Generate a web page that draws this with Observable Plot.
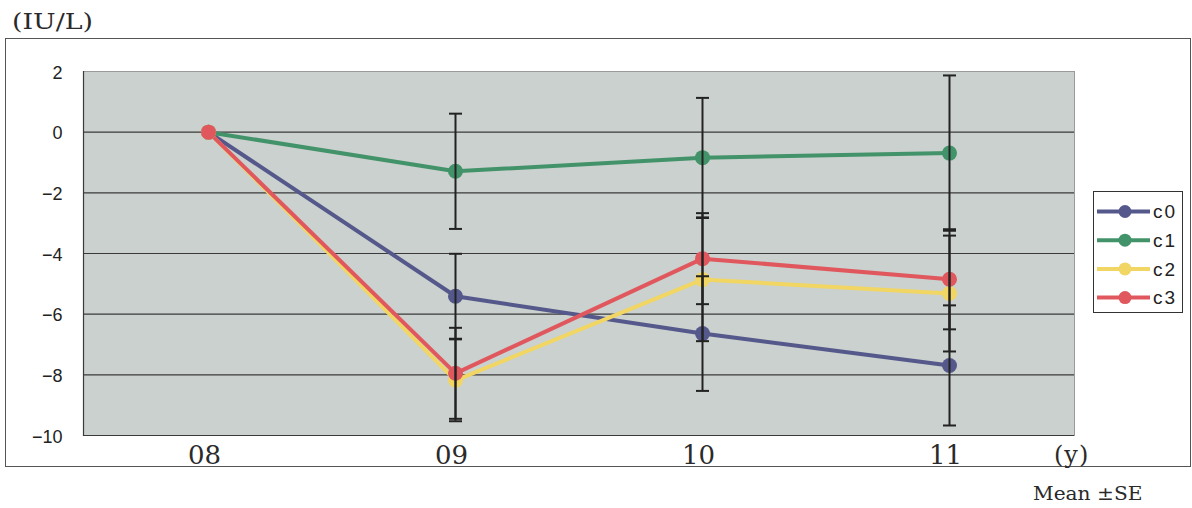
<!DOCTYPE html>
<html>
<head>
<meta charset="utf-8">
<script src="https://cdn.jsdelivr.net/npm/d3@7"></script>
<script src="https://cdn.jsdelivr.net/npm/@observablehq/plot@0.6"></script>
<style>
  html, body { margin: 0; padding: 0; background: #fff; }
  #chart { position: relative; width: 1192px; height: 508px; overflow: hidden; }
  .serif { font-family: "DejaVu Serif", "Liberation Serif", serif; color: #2a2a2a; position: absolute; line-height: 1; white-space: nowrap; }
  #title { left: 12px; top: 11px; font-size: 22px; transform: scaleX(1.22); transform-origin: left top; }
  #box { position: absolute; left: 5px; top: 38px; width: 1184px; height: 427px; border: 1px solid #555; }
  #plot { position: absolute; left: 0; top: 38px; }
  #xunit { left: 1054px; top: 443px; font-size: 24px; letter-spacing: 1px; }
  #note { left: 1033px; top: 485px; font-size: 18px; transform: scaleX(1.12); transform-origin: left top; }
  #legend { position: absolute; left: 1093px; top: 191px; width: 88px; height: 120px; border: 1px solid #333; background: #fff; }
</style>
</head>
<body>
<div id="chart">
  <div id="title" class="serif">(IU/L)</div>
  <div id="box"></div>
  <div id="plot"></div>
  <div id="xunit" class="serif">(y)</div>
  <div id="note" class="serif">Mean ±SE</div>
  <div id="legend"></div>
</div>
<script>
// Survey years and group names
const years = ["08", "09", "10", "11"];
const groups = ["c0", "c1", "c2", "c3"];
const groupColors = ["#55588a", "#43936a", "#f1d664", "#e0585e"];

// Change from baseline (mean) and standard error per group, by year
const c0Mean = [0, -5.41, -6.64, -7.69];
const c0SE   = [0, 1.40, 1.89, 1.98];
const c1Mean = [0, -1.29, -0.84, -0.69];
const c1SE   = [0, 1.90, 1.97, 2.56];
const c2Mean = [0, -8.18, -4.86, -5.32];
const c2SE   = [0, 1.35, 2.03, 1.91];
const c3Mean = [0, -7.95, -4.17, -4.85];
const c3SE   = [0, 1.50, 1.50, 1.65];

// Y-axis ticks
const yTicks = [-10, -8, -6, -4, -2, 0, 2];

const means = [c0Mean, c1Mean, c2Mean, c3Mean];
const ses = [c0SE, c1SE, c2SE, c3SE];

const rows = groups.flatMap((g, gi) =>
  years.map((year, i) => ({
    group: g,
    year,
    mean: means[gi][i],
    lo: means[gi][i] - ses[gi][i],
    hi: means[gi][i] + ses[gi][i],
    se: ses[gi][i]
  }))
);
const errRows = rows.filter(d => d.se > 0);

// Horizontal cap for the error bars
const capSymbol = {
  draw(ctx, size) {
    const r = Math.sqrt(size / Math.PI);
    ctx.moveTo(-r, 0);
    ctx.lineTo(r, 0);
  }
};

const chart = Plot.plot({
  width: 1192,
  height: 428,
  marginLeft: 83,
  marginRight: 118,
  marginTop: 33,
  marginBottom: 31,
  style: { background: "transparent", overflow: "visible" },
  x: { type: "point", domain: years, padding: 0.5, label: null },
  y: { domain: [-10, 2], ticks: yTicks, label: null },
  color: { domain: groups, range: groupColors },
  marks: [
    Plot.frame({ fill: "#cbd1ce", stroke: "#9a9a9a" }),
    Plot.ruleY(yTicks.filter(v => v < 2), { stroke: "#3a3a3a", strokeWidth: 1.2 }),
    Plot.frame({ anchor: "left", stroke: "#3a3a3a", strokeWidth: 1.2 }),
    Plot.axisY({ ticks: yTicks, tickSize: 0, tickPadding: 21, fontSize: 18, fontFamily: "Liberation Sans, Arial, sans-serif", fill: "#222", dy: 1.5, label: null }),
    Plot.axisX({ tickSize: 0, tickPadding: 10, fontSize: 26, fontFamily: "DejaVu Serif, Liberation Serif, serif", fill: "#2a2a2a", dx: -4, label: null }),
    Plot.line(rows, { x: "year", y: "mean", z: "group", stroke: "group", strokeWidth: 4 }),
    Plot.dot(rows, { x: "year", y: "mean", fill: "group", r: 7.5 }),
    Plot.ruleX(errRows, { x: "year", y1: "lo", y2: "hi", stroke: "#222", strokeWidth: 2 }),
    Plot.dot(errRows, { x: "year", y: "lo", symbol: capSymbol, r: 6.5, stroke: "#222", strokeWidth: 2 }),
    Plot.dot(errRows, { x: "year", y: "hi", symbol: capSymbol, r: 6.5, stroke: "#222", strokeWidth: 2 })
  ]
});
document.getElementById("plot").append(chart);

// Legend: line sample with a marker, then the group name
const color = chart.scale("color");
const leg = d3.select("#legend").append("svg").attr("width", 88).attr("height", 120);
const item = leg.selectAll("g").data(groups).join("g")
  .attr("transform", (d, i) => `translate(0,${19.5 + i * 28.7})`);
item.append("line").attr("x1", 3).attr("x2", 56).attr("stroke", d => color.apply(d)).attr("stroke-width", 4);
item.append("circle").attr("cx", 31).attr("r", 6.5).attr("fill", d => color.apply(d));
item.append("text").attr("x", 59).attr("dy", "0.36em")
  .attr("font-family", "Liberation Sans, Arial, sans-serif").attr("font-size", 19)
  .attr("letter-spacing", 2).attr("fill", "#222").text(d => d);
</script>
</body>
</html>
